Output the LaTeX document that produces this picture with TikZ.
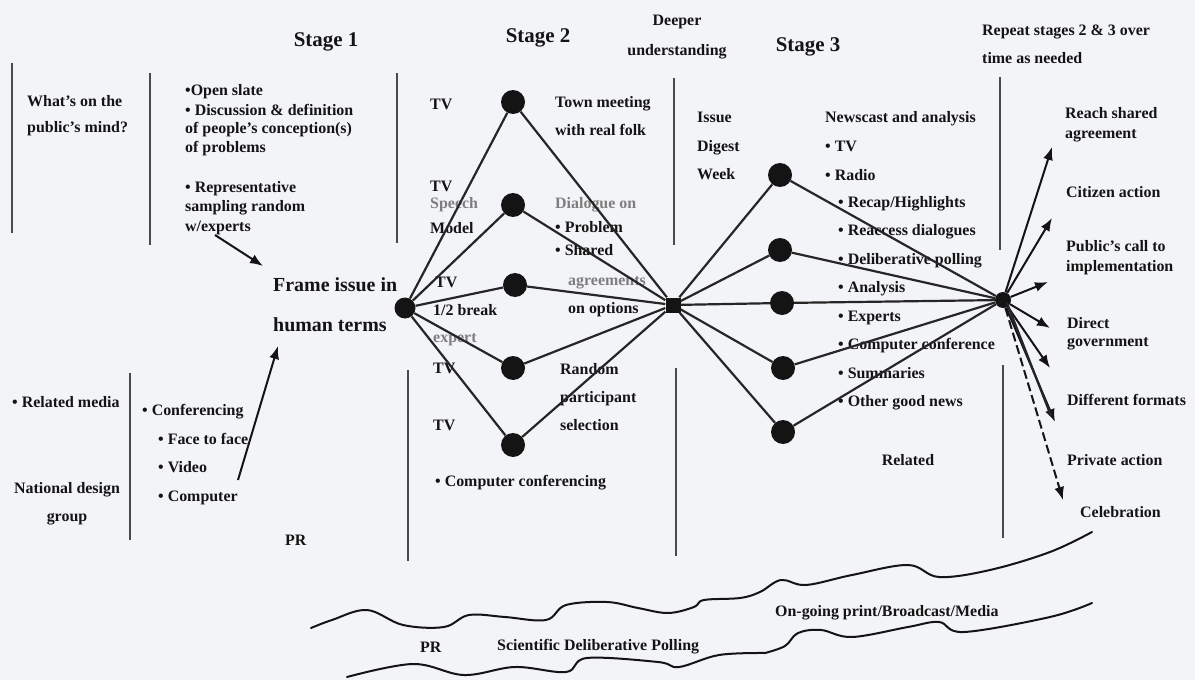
\documentclass[tikz,border=0pt]{standalone}
\usepackage{fontspec}
\setmainfont{Liberation Serif}
\usetikzlibrary{arrows.meta, positioning, calc}
\definecolor{paper}{HTML}{F3F4F7}
\definecolor{ink}{HTML}{141414}
\definecolor{rulegray}{HTML}{4A4A4A}
\definecolor{linkgray}{HTML}{262626}
\definecolor{fadetext}{HTML}{7E7E7E}
\tikzset{
  lbl/.style={font=\fontsize{16}{#1}\selectfont\bfseries, text=ink, align=left,
              anchor=west, inner sep=0pt},
  lbl/.default=28,
  faded/.style={lbl, text=fadetext},
  head/.style={font=\fontsize{21}{24}\selectfont\bfseries, text=ink, inner sep=0pt},
  sdot/.style={circle, fill=ink, minimum size=24bp, inner sep=0pt},
  hubsq/.style={rectangle, fill=ink, minimum size=15bp, inner sep=0pt},
  link/.style={line width=2.2bp, draw=linkgray},
  vrule/.style={line width=2.5bp, draw=rulegray},
  pen/.style={-{Latex[length=13bp, width=10bp]}, line width=2bp, draw=ink},
  wave/.style={line width=2bp, draw=ink, line cap=round},
}

\begin{document}
\begin{tikzpicture}[x=1bp, y=-1bp]
\useasboundingbox[fill=paper] (0,0) rectangle (1195,680);

% Headings
\node[head] (stage1) at (326,42) {Stage 1};
\node[head] (stage2) at (538,38) {Stage 2};
\node[head] (stage3) at (808,47) {Stage 3};
\node[lbl=30, anchor=center, align=center] (deeper) at (677,37) {Deeper\\understanding};
\node[lbl=28] (repeat) at (982,44) {Repeat stages 2 \& 3 over\\time as needed};

% Column rules
\draw[vrule] (12,63) -- (12,233);
\draw[vrule] (150,73) -- (150,245);
\draw[vrule] (397,73) -- (397,243);
\draw[vrule] (674,78) -- (674,245);
\draw[vrule] (1000,77) -- (1000,250);
\draw[vrule] (130,373) -- (130,540);
\draw[vrule] (408,370) -- (408,561);
\draw[vrule] (676,368) -- (676,556);
\draw[vrule] (1003,365) -- (1003,538);

% Stage 1
\node[lbl=26] (mind) at (27,116) {What's on the\\public's mind?};
\node[lbl] (slate) at (185,92) {•Open slate};
\node[lbl=18.5] (discuss) at (185,130) {• Discussion \& definition\\of people's conception(s)\\of problems};
\node[lbl=19.5] (sampling) at (185,208) {• Representative\\sampling random\\w/experts};
\node[lbl=40, font=\fontsize{20}{40}\selectfont\bfseries] (frame) at (273,305) {Frame issue in\\human terms};
\node[lbl] (related) at (12,402) {• Related media};
\node[lbl] (confer) at (142,412) {• Conferencing};
\node[lbl=29] (modes) at (158,469) {• Face to face\\• Video\\• Computer};
\node[lbl=28, anchor=center, align=center] (natdesign) at (67,504) {National design\\group};
\node[lbl] (pr1) at (285,540) {PR};

\coordinate (samplingend) at (215,235);
\coordinate (frametip) at (263,266);
\coordinate (modesend) at (238,480);
\coordinate (frametip2) at (278,346);
\draw[pen] (samplingend) -- (frametip);
\draw[pen] (modesend) -- (frametip2);

% Stage 2
\node[sdot, minimum size=21bp] (fdot) at (405,308) {};
\node[sdot] (s2a) at (513,102) {};
\node[sdot] (s2b) at (513,205) {};
\node[sdot] (s2c) at (515,285) {};
\node[sdot] (s2d) at (513,368) {};
\node[sdot] (s2e) at (513,445) {};
\node[hubsq] (hub) at (673,305) {};

\node[lbl] (tv1) at (430,104) {TV};
\node[lbl] (tv2) at (430,186) {TV};
\node[faded] (speech) at (430,205) {Speech};
\node[lbl] (model) at (430,228) {Model};
\node[lbl] (tv3) at (435,282) {TV};
\node[lbl] (halfbreak) at (433,310) {1/2 break};
\node[faded] (expert) at (433,340) {expert};
\node[lbl] (tv4) at (433,368) {TV};
\node[lbl] (tv5) at (433,425) {TV};
\node[lbl=28] (town) at (555,116) {Town meeting\\with real folk};
\node[faded] (dialogue) at (555,205) {Dialogue on};
\node[lbl=23] (problem) at (555,239) {• Problem\\• Shared};
\node[faded] (agree) at (568,283) {agreements};
\node[lbl] (options) at (568,310) {on options};
\node[lbl=28.5] (random) at (560,397) {Random\\participant\\selection};
\node[lbl] (compconf) at (435,483) {• Computer conferencing};

\foreach \n in {s2a,s2b,s2c,s2d,s2e} {
  \draw[link] (fdot) -- (\n) -- (hub);
}

% Stage 3
\node[sdot] (s3a) at (780,175) {};
\node[sdot] (s3b) at (780,250) {};
\node[sdot] (s3c) at (782,303) {};
\node[sdot] (s3d) at (783,368) {};
\node[sdot] (s3e) at (783,432) {};
\node[sdot, minimum size=16bp] (rhub) at (1003,300) {};

\node[lbl=29] (digest) at (697,146) {Issue\\Digest\\Week};
\node[lbl=29] (newscast) at (825,146) {Newscast and analysis\\• TV\\• Radio};
\node[lbl=28.6] (recap) at (838,303) {• Recap/Highlights\\• Reaccess dialogues\\• Deliberative polling\\• Analysis\\• Experts\\• Computer conference\\• Summaries\\• Other good news};
\node[lbl, anchor=center] (related3) at (908,460) {Related};

\foreach \n in {s3a,s3b,s3c,s3d,s3e} {
  \draw[link] (hub) -- (\n) -- (rhub);
}

% Outcomes
\node[lbl=20] (reach) at (1065,125) {Reach shared\\agreement};
\node[lbl] (citizen) at (1066,192) {Citizen action};
\node[lbl=20] (publiccall) at (1066,258) {Public's call to\\implementation};
\node[lbl=18] (direct) at (1067,334) {Direct\\government};
\node[lbl] (formats) at (1067,400) {Different formats};
\node[lbl] (private) at (1067,460) {Private action};
\node[lbl] (celebrate) at (1080,512) {Celebration};

\foreach \t/\x/\y in {t1/1052/147, t2/1052/218, t3/1048/282, t4/1050/328,
                      t5/1050/368, t6/1055/422} {
  \coordinate (\t) at (\x,\y);
  \draw[pen] (rhub) -- (\t);
}
\draw[link] ($(rhub)+(4,3)$) -- ($(t6)+(-4,-6)$);
\coordinate (t7) at (1063,500);
\draw[pen, dash pattern=on 9bp off 4bp] (rhub) -- (t7);

% Ongoing bands
\draw[wave] plot[smooth, tension=0.6] coordinates {(311,628) (332,620) (367,610) (403,625)
  (444,627) (469,615) (505,617) (546,620) (566,605) (607,602) (638,608) (668,613)
  (694,607) (704,600) (740,598) (760,592) (781,580) (806,585) (852,575) (908,565)
  (939,577) (990,570) (1050,552) (1092,532)};
\draw[wave] plot[smooth, tension=0.6] coordinates {(347,677) (413,664) (464,675) (515,667)
  (566,672) (587,658) (658,662) (679,667) (719,655) (765,653)};
\draw[wave] plot[smooth, tension=0.6] coordinates {(765,653) (785,646) (798,633) (821,630)
  (852,637) (908,627) (939,622) (964,632) (1050,617) (1092,603)};

\node[lbl] (ongoing) at (775,613) {On-going print/Broadcast/Media};
\node[lbl] (pr2) at (420,647) {PR};
\node[lbl] (scientific) at (497,647) {Scientific Deliberative Polling};

\end{tikzpicture}
\end{document}
